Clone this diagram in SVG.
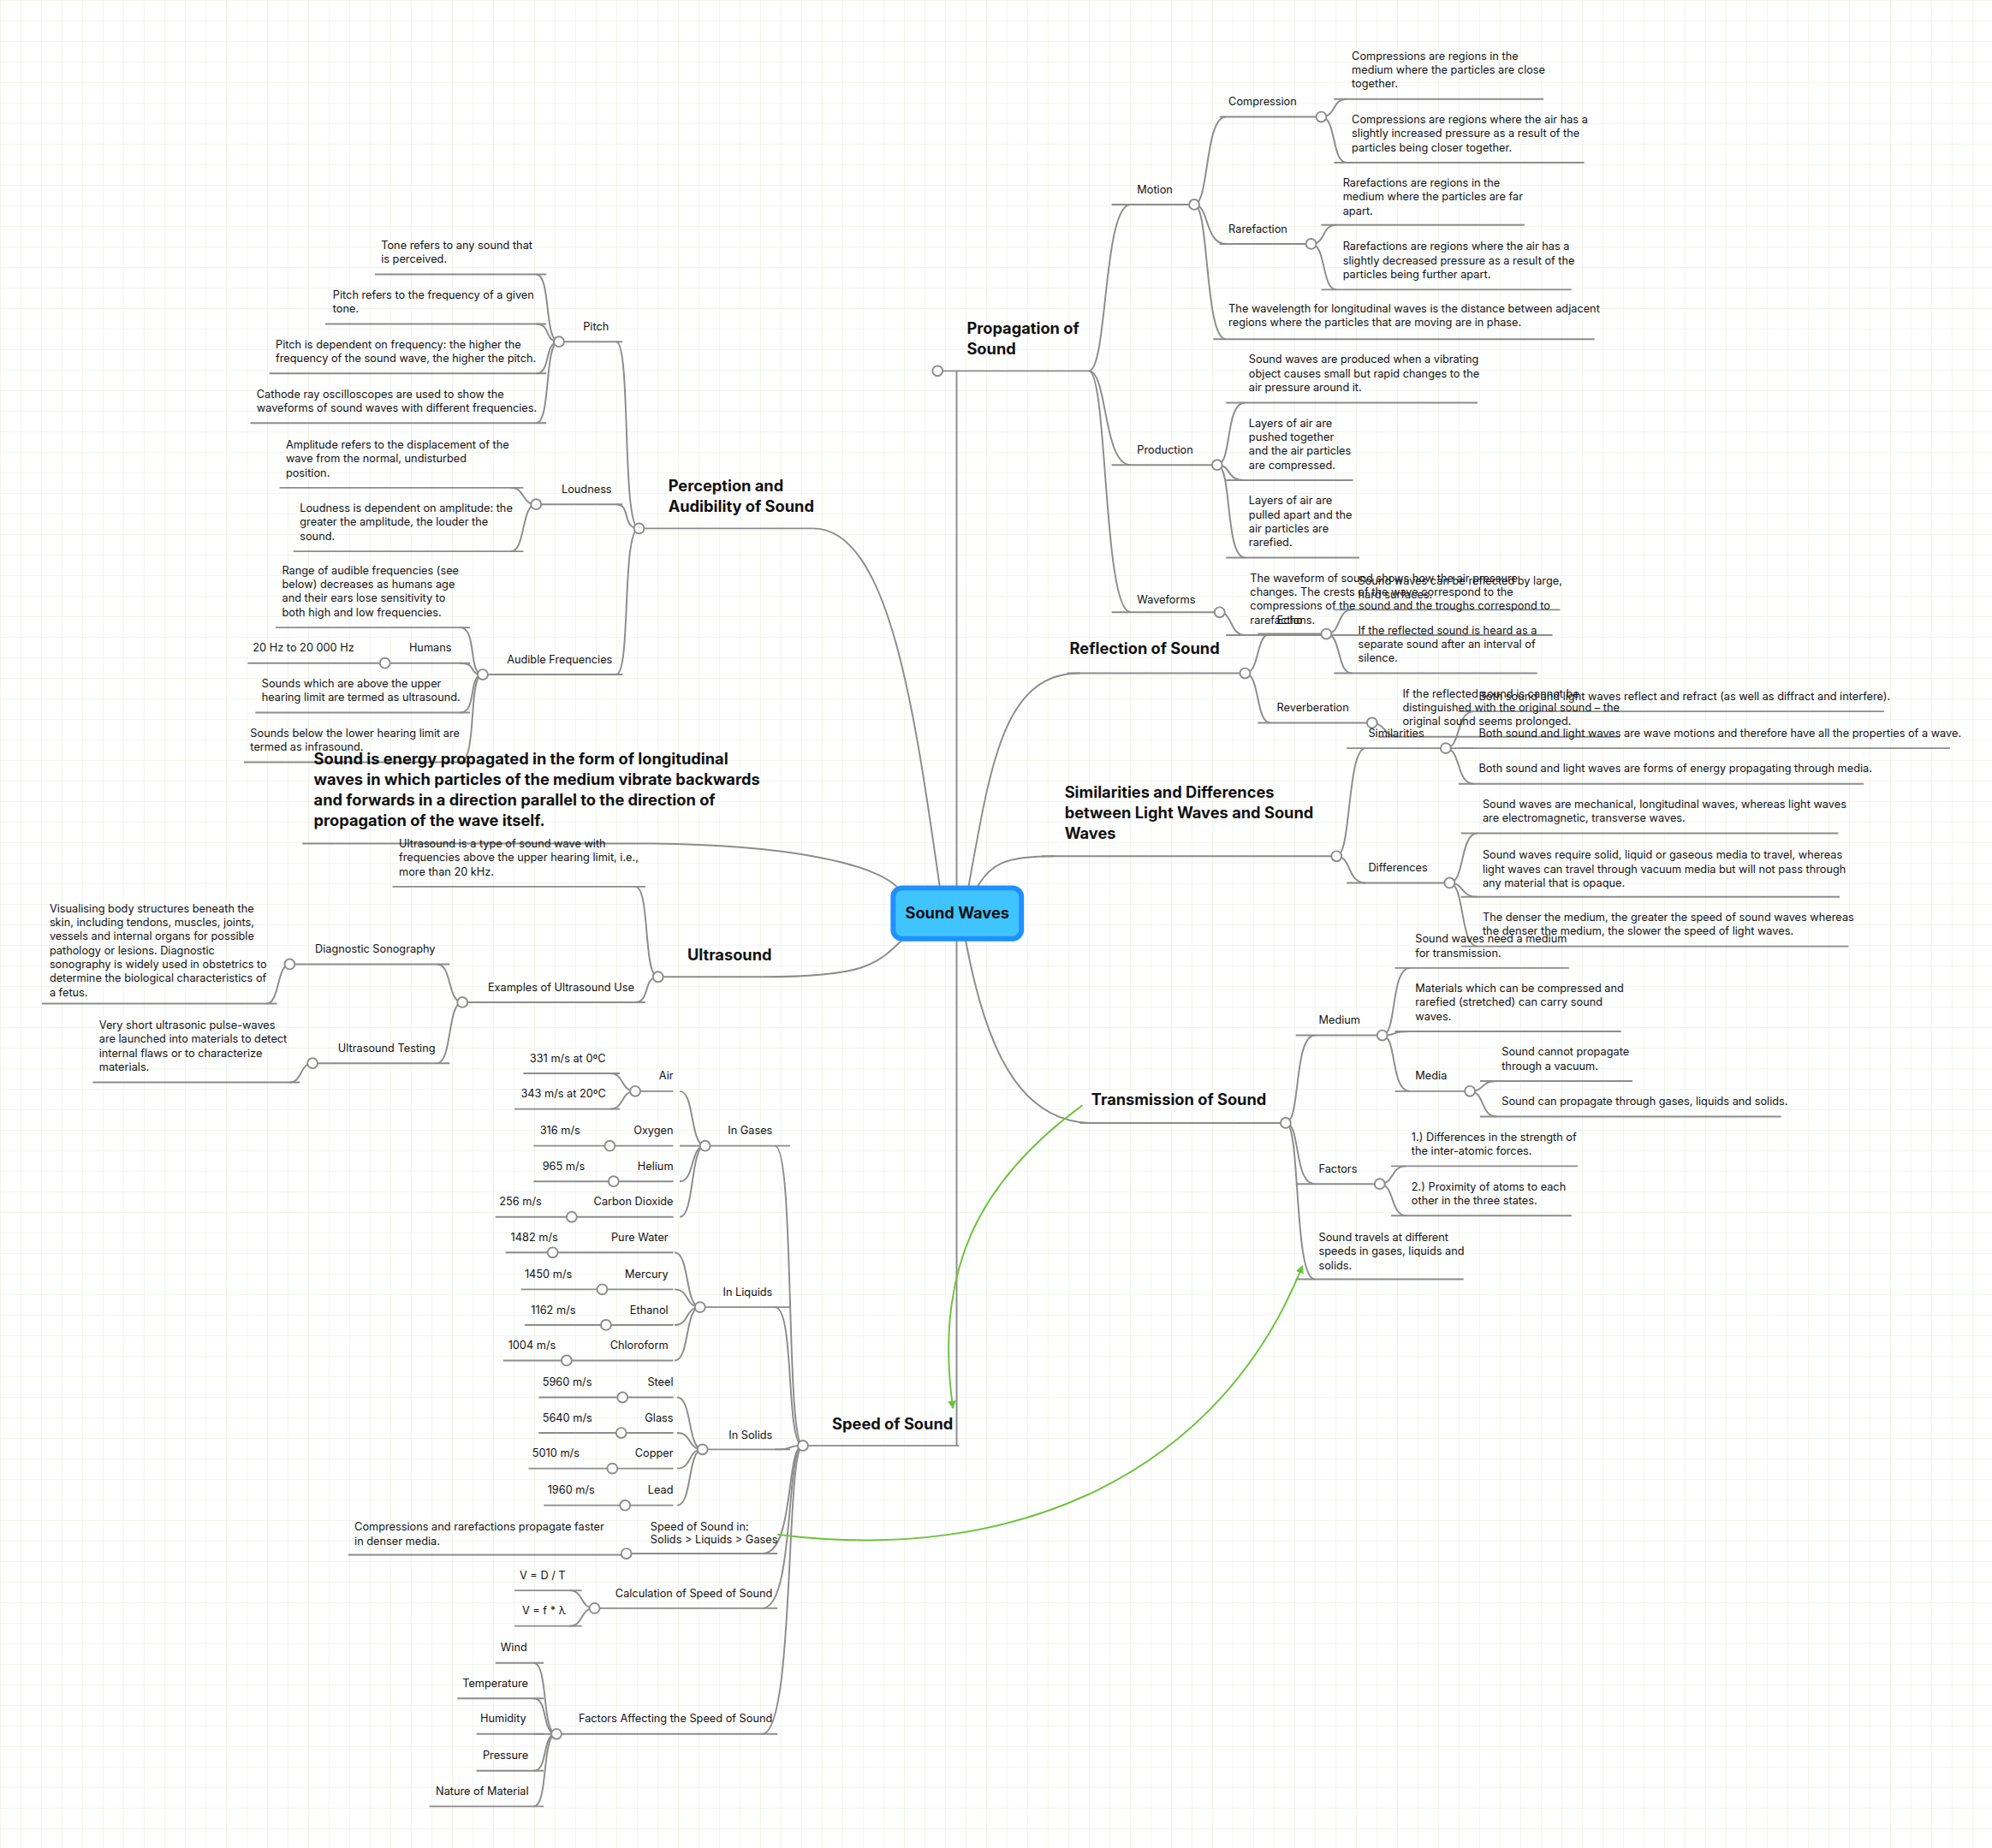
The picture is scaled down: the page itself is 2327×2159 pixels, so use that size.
<svg xmlns="http://www.w3.org/2000/svg" width="2327" height="2159" viewBox="0 0 2327 2159">
<defs>
<pattern id="grid" width="24" height="24" patternUnits="userSpaceOnUse"><path d="M24 0H0V24" fill="none" stroke="#e4eedb" stroke-width="1"/></pattern>
<marker id="ah" viewBox="0 0 10 10" refX="8" refY="5" markerWidth="5" markerHeight="5" orient="auto"><path d="M0,0L10,5L0,10z" fill="#6cc23a"/></marker>
<style>
text{font-family:Inter,"Noto Sans","Liberation Sans",sans-serif;fill:#111}
.t{font-size:8.6px}
.b{font-size:12.3px;font-weight:bold}
.u,.e{fill:none;stroke:#8c8c8c;stroke-width:1.3}
.c{fill:#fff;stroke:#8c8c8c;stroke-width:1.3}
.g{fill:none;stroke:#6cc23a;stroke-width:1.3}
.r{text-anchor:end}
</style>
</defs>
<rect width="2327" height="2159" fill="#fff"/>
<rect width="2327" height="2159" fill="url(#grid)"/>
<g transform="scale(1.4841)">
<g id="connectors">
<path class="e" d="M753,700 L753,292"/>
<path class="e" d="M753,700 L753,1138"/>
<path class="e" d="M740,700 C720,560 700,416 640,416"/>
<path class="e" d="M708,700 C690,680 620,664 500,664"/>
<path class="e" d="M712,738 C690,760 680,769 600,769"/>
<path class="e" d="M762,700 C780,600 790,530 850,530"/>
<path class="e" d="M768,700 C780,680 790,674 830,674"/>
<path class="e" d="M760,740 C775,820 800,884 860,884"/>
<!-- propagation -->
<path class="e" d="M857,292 C872,292 868,161 890,161"/>
<path class="e" d="M857,292 C872,292 868,366 890,366"/>
<path class="e" d="M857,292 C872,292 868,482 890,482"/>
<path class="e" d="M940,161 C952,161 948,92 965,92"/>
<path class="e" d="M940,161 C952,161 948,192 965,192"/>
<path class="e" d="M940,161 C952,161 948,267 965,267"/>
<path class="e" d="M1040,92 C1052,92 1048,78 1060,78"/>
<path class="e" d="M1040,92 C1052,92 1048,128 1060,128"/>
<path class="e" d="M1032,192 C1044,192 1040,177 1052,177"/>
<path class="e" d="M1032,192 C1044,192 1040,228 1052,228"/>
<path class="e" d="M958,366 C970,366 964,317 980,317"/>
<path class="e" d="M958,366 C970,366 964,378 980,378"/>
<path class="e" d="M958,366 C970,366 964,439 980,439"/>
<path class="e" d="M960,482 C970,482 968,500 980,500"/>
<!-- reflection -->
<path class="e" d="M980,530 C992,530 988,499 1000,499"/>
<path class="e" d="M980,530 C992,530 988,569 1000,569"/>
<path class="e" d="M1044,499 C1056,499 1052,480 1064,480"/>
<path class="e" d="M1044,499 C1056,499 1052,530 1064,530"/>
<path class="e" d="M1080,569 C1090,569 1090,580 1100,580"/>
<!-- similarities -->
<path class="e" d="M1052,674 C1064,674 1060,589 1075,589"/>
<path class="e" d="M1052,674 C1064,674 1060,695 1075,695"/>
<path class="e" d="M1138,589 C1150,589 1146,560 1160,560"/>
<path class="e" d="M1138,589 C1150,589 1146,589 1160,589"/>
<path class="e" d="M1138,589 C1150,589 1146,617 1160,617"/>
<path class="e" d="M1141,695 C1153,695 1149,656 1163,656"/>
<path class="e" d="M1141,695 C1153,695 1149,706 1163,706"/>
<path class="e" d="M1141,695 C1153,695 1149,745 1163,745"/>
<!-- transmission -->
<path class="e" d="M1012,884 C1024,884 1018,815 1035,815"/>
<path class="e" d="M1012,884 C1024,884 1018,932 1035,932"/>
<path class="e" d="M1012,884 C1024,884 1018,1007 1035,1007"/>
<path class="e" d="M1088,815 C1100,815 1094,762 1110,762"/>
<path class="e" d="M1088,815 C1100,815 1094,812 1110,812"/>
<path class="e" d="M1088,815 C1100,815 1094,859 1110,859"/>
<path class="e" d="M1157,859 C1169,859 1165,851 1178,851"/>
<path class="e" d="M1157,859 C1169,859 1165,879 1178,879"/>
<path class="e" d="M1086,932 C1098,932 1094,918 1107,918"/>
<path class="e" d="M1086,932 C1098,932 1094,957 1107,957"/>
<!-- speed -->
<path class="e" d="M632,1138 C618,1138 626,902 610,902"/>
<path class="e" d="M632,1138 C618,1138 626,1029 610,1029"/>
<path class="e" d="M632,1138 C618,1138 626,1141 610,1141"/>
<path class="e" d="M632,1138 C618,1138 626,1223 600,1223"/>
<path class="e" d="M632,1138 C618,1138 626,1266 600,1266"/>
<path class="e" d="M632,1138 C618,1138 626,1365 600,1365"/>
<path class="e" d="M555,902 C543,902 547,859 535,859"/>
<path class="e" d="M555,902 C543,902 547,902 535,902"/>
<path class="e" d="M555,902 C543,902 547,930 535,930"/>
<path class="e" d="M555,902 C543,902 547,958 535,958"/>
<path class="e" d="M500,859 C488,859 492,845 480,845"/>
<path class="e" d="M500,859 C488,859 492,873 480,873"/>
<path class="e" d="M551,1029 C539,1029 543,986 531,986"/>
<path class="e" d="M551,1029 C539,1029 543,1015 531,1015"/>
<path class="e" d="M551,1029 C539,1029 543,1043 531,1043"/>
<path class="e" d="M551,1029 C539,1029 543,1071 531,1071"/>
<path class="e" d="M553,1141 C541,1141 545,1100 533,1100"/>
<path class="e" d="M553,1141 C541,1141 545,1128 533,1128"/>
<path class="e" d="M553,1141 C541,1141 545,1156 533,1156"/>
<path class="e" d="M553,1141 C541,1141 545,1185 533,1185"/>
<path class="e" d="M468,1266 C456,1266 460,1252 448,1252"/>
<path class="e" d="M468,1266 C456,1266 460,1280 448,1280"/>
<path class="e" d="M438,1365 C426,1365 432,1309 420,1309"/>
<path class="e" d="M438,1365 C426,1365 432,1337 420,1337"/>
<path class="e" d="M438,1365 C426,1365 432,1365 420,1365"/>
<path class="e" d="M438,1365 C426,1365 432,1394 420,1394"/>
<path class="e" d="M438,1365 C426,1365 432,1422 420,1422"/>
<!-- perception -->
<path class="e" d="M503,416 C489,416 497,269 485,269"/>
<path class="e" d="M503,416 C489,416 497,397 485,397"/>
<path class="e" d="M503,416 C489,416 497,531 485,531"/>
<path class="e" d="M440,269 C428,269 434,216 422,216"/>
<path class="e" d="M440,269 C428,269 434,255 422,255"/>
<path class="e" d="M440,269 C428,269 434,294 422,294"/>
<path class="e" d="M440,269 C428,269 434,333 422,333"/>
<path class="e" d="M422,397 C410,397 414,384 402,384"/>
<path class="e" d="M422,397 C410,397 414,434 402,434"/>
<path class="e" d="M380,531 C368,531 376,494 362,494"/>
<path class="e" d="M380,531 C368,531 376,522 362,522"/>
<path class="e" d="M380,531 C368,531 376,561 362,561"/>
<path class="e" d="M380,531 C368,531 376,600 362,600"/>
<!-- ultrasound -->
<path class="e" d="M518,769 C506,769 512,698 500,698"/>
<path class="e" d="M518,769 C506,769 512,789 500,789"/>
<path class="e" d="M364,789 C352,789 356,759 344,759"/>
<path class="e" d="M364,789 C352,789 356,837 344,837"/>
<path class="e" d="M228,759 C218,759 220,790 210,790"/>
<path class="e" d="M246,837 C236,837 238,852 228,852"/>
<!-- underlines -->
<path class="u" d="M738,292H857 M875,161H940 M960,92H1040 M960,192H1032 M955,267H1255 M1050,78H1215 M1050,128H1247 M1040,177H1200 M1040,228H1237 M875,366H958 M965,317H1163 M965,378H1065 M965,439H1070 M875,482H960 M965,500H1222"/>
<path class="u" d="M840,530H980 M990,499H1044 M990,569H1080 M1050,480H1228 M1050,530H1210 M1085,580H1275"/>
<path class="u" d="M820,674H1052 M1060,589H1138 M1060,695H1141 M1148,560H1483 M1148,589H1535 M1148,617H1467 M1150,656H1447 M1150,706H1448 M1150,745H1455"/>
<path class="u" d="M850,884H1012 M1020,815H1088 M1020,932H1086 M1020,1007H1152 M1098,762H1235 M1098,812H1276 M1098,859H1157 M1165,851H1285 M1165,879H1402 M1095,918H1242 M1095,957H1237"/>
<path class="u" d="M632,1138H755 M555,902H622 M551,1029H622 M553,1141H622 M493,1223H612 M468,1266H612 M438,1365H612"/>
<path class="u" d="M500,859H530 M480,902H530 M483,930H530 M450,958H530 M412,845H488 M405,873H488 M420,902H480 M420,930H483 M390,958H450"/>
<path class="u" d="M435,986H530 M474,1015H530 M477,1043H530 M446,1071H530 M398,986H435 M410,1015H474 M413,1043H477 M396,1071H446"/>
<path class="u" d="M490,1100H530 M489,1128H530 M482,1156H530 M492,1185H530 M424,1100H490 M424,1128H489 M416,1156H482 M428,1185H492"/>
<path class="u" d="M274,1224H493 M405,1252H458 M405,1280H458 M390,1309H428 M360,1337H428 M375,1365H428 M375,1394H428 M338,1422H428"/>
<path class="u" d="M503,416H640 M440,269H490 M422,397H490 M380,531H490 M295,216H430 M256,255H430 M212,294H430 M197,333H430 M220,384H412 M231,434H412 M217,494H370 M303,522H370 M195,522H303 M201,561H370 M192,600H370 M238,664H500"/>
<path class="u" d="M518,769H600 M309,698H508 M364,789H508 M228,759H354 M246,837H354 M33,790H218 M73,852H236"/>
<path class="g" d="M852,870 C770,930 735,1000 750,1108" marker-end="url(#ah)"/>
<path class="g" d="M612,1208 C800,1232 960,1160 1025,997" marker-end="url(#ah)"/>
</g>
<g id="circles">
<circle class="c" cx="738" cy="292" r="4"/><circle class="c" cx="940" cy="161" r="4"/><circle class="c" cx="1040" cy="92" r="4"/><circle class="c" cx="1032" cy="192" r="4"/><circle class="c" cx="958" cy="366" r="4"/><circle class="c" cx="960" cy="482" r="4"/>
<circle class="c" cx="980" cy="530" r="4"/><circle class="c" cx="1044" cy="499" r="4"/><circle class="c" cx="1080" cy="569" r="4"/>
<circle class="c" cx="1052" cy="674" r="4"/><circle class="c" cx="1138" cy="589" r="4"/><circle class="c" cx="1141" cy="695" r="4"/>
<circle class="c" cx="1012" cy="884" r="4"/><circle class="c" cx="1088" cy="815" r="4"/><circle class="c" cx="1157" cy="859" r="4"/><circle class="c" cx="1086" cy="932" r="4"/>
<circle class="c" cx="632" cy="1138" r="4"/><circle class="c" cx="555" cy="902" r="4"/><circle class="c" cx="551" cy="1029" r="4"/><circle class="c" cx="553" cy="1141" r="4"/><circle class="c" cx="493" cy="1223" r="4"/><circle class="c" cx="468" cy="1266" r="4"/><circle class="c" cx="438" cy="1365" r="4"/>
<circle class="c" cx="500" cy="859" r="4"/><circle class="c" cx="480" cy="902" r="4"/><circle class="c" cx="483" cy="930" r="4"/><circle class="c" cx="450" cy="958" r="4"/>
<circle class="c" cx="435" cy="986" r="4"/><circle class="c" cx="474" cy="1015" r="4"/><circle class="c" cx="477" cy="1043" r="4"/><circle class="c" cx="446" cy="1071" r="4"/>
<circle class="c" cx="490" cy="1100" r="4"/><circle class="c" cx="489" cy="1128" r="4"/><circle class="c" cx="482" cy="1156" r="4"/><circle class="c" cx="492" cy="1185" r="4"/>
<circle class="c" cx="503" cy="416" r="4"/><circle class="c" cx="440" cy="269" r="4"/><circle class="c" cx="422" cy="397" r="4"/><circle class="c" cx="380" cy="531" r="4"/><circle class="c" cx="303" cy="522" r="4"/>
<circle class="c" cx="518" cy="769" r="4"/><circle class="c" cx="364" cy="789" r="4"/><circle class="c" cx="228" cy="759" r="4"/><circle class="c" cx="246" cy="837" r="4"/>
</g>
<g id="center"><rect x="703" y="699" width="101" height="40" rx="7" fill="#40c4ff" stroke="#1e90ff" stroke-width="4"/><text class="b" x="753.5" y="723" text-anchor="middle">Sound Waves</text></g>
<g id="propagation">
<text class="b" x="761" y="263">Propagation of</text><text class="b" x="761" y="279">Sound</text>
<text class="t" x="895" y="152">Motion</text>
<text class="t" x="967" y="83">Compression</text>
<text class="t" x="1064" y="47">Compressions are regions in the</text><text class="t" x="1064" y="58">medium where the particles are close</text><text class="t" x="1064" y="69">together.</text>
<text class="t" x="1064" y="97">Compressions are regions where the air has a</text><text class="t" x="1064" y="108">slightly increased pressure as a result of the</text><text class="t" x="1064" y="119">particles being closer together.</text>
<text class="t" x="967" y="183">Rarefaction</text>
<text class="t" x="1057" y="147">Rarefactions are regions in the</text><text class="t" x="1057" y="158">medium where the particles are far</text><text class="t" x="1057" y="169">apart.</text>
<text class="t" x="1057" y="197">Rarefactions are regions where the air has a</text><text class="t" x="1057" y="208">slightly decreased pressure as a result of the</text><text class="t" x="1057" y="219">particles being further apart.</text>
<text class="t" x="967" y="246">The wavelength for longitudinal waves is the distance between adjacent</text><text class="t" x="967" y="257">regions where the particles that are moving are in phase.</text>
<text class="t" x="895" y="357">Production</text>
<text class="t" x="983" y="286">Sound waves are produced when a vibrating</text><text class="t" x="983" y="297">object causes small but rapid changes to the</text><text class="t" x="983" y="308">air pressure around it.</text>
<text class="t" x="983" y="336">Layers of air are</text><text class="t" x="983" y="347">pushed together</text><text class="t" x="983" y="358">and the air particles</text><text class="t" x="983" y="369">are compressed.</text>
<text class="t" x="983" y="397">Layers of air are</text><text class="t" x="983" y="408">pulled apart and the</text><text class="t" x="983" y="419">air particles are</text><text class="t" x="983" y="430">rarefied.</text>
<text class="t" x="895" y="475">Waveforms</text>
<text class="t" x="984" y="458">The waveform of sound shows how the air pressure</text><text class="t" x="984" y="469">changes. The crests of the wave correspond to the</text><text class="t" x="984" y="480">compressions of the sound and the troughs correspond to</text><text class="t" x="984" y="491">rarefactions.</text>
</g>
<g id="reflection">
<text class="b" x="842" y="515">Reflection of Sound</text>
<text class="t" x="1005" y="491">Echo</text>
<text class="t" x="1069" y="460">Sound waves can be reflected by large,</text><text class="t" x="1069" y="471">hard surfaces.</text>
<text class="t" x="1069" y="499">If the reflected sound is heard as a</text><text class="t" x="1069" y="510">separate sound after an interval of</text><text class="t" x="1069" y="521">silence.</text>
<text class="t" x="1005" y="560">Reverberation</text>
<text class="t" x="1104" y="549">If the reflected sound is cannot be</text><text class="t" x="1104" y="560">distinguished with the original sound – the</text><text class="t" x="1104" y="571">original sound seems prolonged.</text>
</g>
<g id="similarities">
<text class="b" x="838" y="628">Similarities and Differences</text><text class="b" x="838" y="644">between Light Waves and Sound</text><text class="b" x="838" y="660">Waves</text>
<text class="t" x="1077" y="580">Similarities</text>
<text class="t" x="1164" y="551">Both sound and light waves reflect and refract (as well as diffract and interfere).</text>
<text class="t" x="1164" y="580">Both sound and light waves are wave motions and therefore have all the properties of a wave.</text>
<text class="t" x="1164" y="608">Both sound and light waves are forms of energy propagating through media.</text>
<text class="t" x="1077" y="686">Differences</text>
<text class="t" x="1167" y="636">Sound waves are mechanical, longitudinal waves, whereas light waves</text><text class="t" x="1167" y="647">are electromagnetic, transverse waves.</text>
<text class="t" x="1167" y="676">Sound waves require solid, liquid or gaseous media to travel, whereas</text><text class="t" x="1167" y="687">light waves can travel through vacuum media but will not pass through</text><text class="t" x="1167" y="698">any material that is opaque.</text>
<text class="t" x="1167" y="725">The denser the medium, the greater the speed of sound waves whereas</text><text class="t" x="1167" y="736">the denser the medium, the slower the speed of light waves.</text>
</g>
<g id="transmission">
<text class="b" x="859" y="870">Transmission of Sound</text>
<text class="t" x="1038" y="806">Medium</text>
<text class="t" x="1114" y="742">Sound waves need a medium</text><text class="t" x="1114" y="753">for transmission.</text>
<text class="t" x="1114" y="781">Materials which can be compressed and</text><text class="t" x="1114" y="792">rarefied (stretched) can carry sound</text><text class="t" x="1114" y="803">waves.</text>
<text class="t" x="1114" y="850">Media</text>
<text class="t" x="1182" y="831">Sound cannot propagate</text><text class="t" x="1182" y="842">through a vacuum.</text>
<text class="t" x="1182" y="870">Sound can propagate through gases, liquids and solids.</text>
<text class="t" x="1038" y="923">Factors</text>
<text class="t" x="1111" y="898">1.) Differences in the strength of</text><text class="t" x="1111" y="909">the inter-atomic forces.</text>
<text class="t" x="1111" y="937">2.)  Proximity of atoms to each</text><text class="t" x="1111" y="948">other in the three states.</text>
<text class="t" x="1038" y="977">Sound travels at different</text><text class="t" x="1038" y="988">speeds in gases, liquids and</text><text class="t" x="1038" y="999">solids.</text>
</g>
<g id="speed">
<text class="b" x="655" y="1125">Speed of Sound</text>
<text class="t r" x="608" y="893">In Gases</text>
<text class="t r" x="530" y="850">Air</text><text class="t" x="417" y="836">331 m/s at 0ºC</text><text class="t" x="410" y="864">343 m/s at 20ºC</text>
<text class="t r" x="530" y="893">Oxygen</text><text class="t" x="425" y="893">316 m/s</text>
<text class="t r" x="530" y="921">Helium</text><text class="t" x="427" y="921">965 m/s</text>
<text class="t r" x="530" y="949">Carbon Dioxide</text><text class="t" x="393" y="949">256 m/s</text>
<text class="t r" x="608" y="1020">In Liquids</text>
<text class="t r" x="526" y="977">Pure Water</text><text class="t" x="402" y="977">1482 m/s</text>
<text class="t r" x="526" y="1006">Mercury</text><text class="t" x="413" y="1006">1450 m/s</text>
<text class="t r" x="526" y="1034">Ethanol</text><text class="t" x="418" y="1034">1162 m/s</text>
<text class="t r" x="526" y="1062">Chloroform</text><text class="t" x="400" y="1062">1004 m/s</text>
<text class="t r" x="608" y="1133">In Solids</text>
<text class="t r" x="530" y="1091">Steel</text><text class="t" x="427" y="1091">5960 m/s</text>
<text class="t r" x="530" y="1119">Glass</text><text class="t" x="427" y="1119">5640 m/s</text>
<text class="t r" x="530" y="1147">Copper</text><text class="t" x="419" y="1147">5010 m/s</text>
<text class="t r" x="530" y="1176">Lead</text><text class="t" x="431" y="1176">1960 m/s</text>
<text class="t" x="512" y="1205">Speed of Sound in:</text><text class="t" x="512" y="1215">Solids &gt; Liquids &gt; Gases</text>
<text class="t" x="279" y="1205">Compressions and rarefactions propagate faster</text><text class="t" x="279" y="1216">in denser media.</text>
<text class="t r" x="608" y="1257">Calculation of Speed of Sound</text>
<text class="t" x="409" y="1243">V = D / T</text><text class="t" x="411" y="1271">V = f * λ</text>
<text class="t r" x="608" y="1356">Factors Affecting the Speed of Sound</text>
<text class="t" x="394" y="1300">Wind</text><text class="t" x="364" y="1328">Temperature</text><text class="t" x="378" y="1356">Humidity</text><text class="t" x="380" y="1385">Pressure</text><text class="t" x="343" y="1413">Nature of Material</text>
</g>
<g id="perception">
<text class="b" x="526" y="387">Perception and</text><text class="b" x="526" y="403">Audibility of Sound</text>
<text class="t" x="459" y="260">Pitch</text>
<text class="t" x="300" y="196">Tone refers to any sound that</text><text class="t" x="300" y="207">is perceived.</text>
<text class="t" x="262" y="235">Pitch refers to the frequency of a given</text><text class="t" x="262" y="246">tone.</text>
<text class="t" x="217" y="274">Pitch is dependent on frequency: the higher the</text><text class="t" x="217" y="285">frequency of the sound wave, the higher the pitch.</text>
<text class="t" x="202" y="313">Cathode ray oscilloscopes are used to show the</text><text class="t" x="202" y="324">waveforms of sound waves with different frequencies.</text>
<text class="t" x="442" y="388">Loudness</text>
<text class="t" x="225" y="353">Amplitude refers to the displacement of the</text><text class="t" x="225" y="364">wave from the normal, undisturbed</text><text class="t" x="225" y="375">position.</text>
<text class="t" x="236" y="403">Loudness is dependent on amplitude: the</text><text class="t" x="236" y="414">greater the amplitude, the louder the</text><text class="t" x="236" y="425">sound.</text>
<text class="t" x="399" y="522">Audible Frequencies</text>
<text class="t" x="222" y="452">Range of audible frequencies (see</text><text class="t" x="222" y="463">below) decreases as humans age</text><text class="t" x="222" y="474">and their ears lose sensitivity to</text><text class="t" x="222" y="485">both high and low frequencies.</text>
<text class="t" x="322" y="513">Humans</text><text class="t" x="199" y="513">20 Hz to 20 000 Hz</text>
<text class="t" x="206" y="541">Sounds which are above the upper</text><text class="t" x="206" y="552">hearing limit are termed as ultrasound.</text>
<text class="t" x="197" y="580">Sounds below the lower hearing limit are</text><text class="t" x="197" y="591">termed as infrasound.</text>
</g>
<g id="definition">
<text class="b" x="247" y="602">Sound is energy propagated in the form of longitudinal</text><text class="b" x="247" y="618">waves in which particles of the medium vibrate backwards</text><text class="b" x="247" y="634">and forwards in a direction parallel to the direction of</text><text class="b" x="247" y="650">propagation of the wave itself.</text>
</g>
<g id="ultrasound">
<text class="b" x="541" y="756">Ultrasound</text>
<text class="t" x="314" y="667">Ultrasound is a type of sound wave with</text><text class="t" x="314" y="678">frequencies above the upper hearing limit, i.e.,</text><text class="t" x="314" y="689">more than 20 kHz.</text>
<text class="t" x="384" y="780">Examples of Ultrasound Use</text>
<text class="t" x="248" y="750">Diagnostic Sonography</text>
<text class="t" x="39" y="718">Visualising body structures beneath the</text><text class="t" x="39" y="729">skin, including tendons, muscles, joints,</text><text class="t" x="39" y="740">vessels and internal organs for possible</text><text class="t" x="39" y="751">pathology or lesions. Diagnostic</text><text class="t" x="39" y="762">sonography is widely used in obstetrics to</text><text class="t" x="39" y="773">determine the biological characteristics of</text><text class="t" x="39" y="784">a fetus.</text>
<text class="t" x="266" y="828">Ultrasound Testing</text>
<text class="t" x="78" y="810">Very short ultrasonic pulse-waves</text><text class="t" x="78" y="821">are launched into materials to detect</text><text class="t" x="78" y="832">internal flaws or to characterize</text><text class="t" x="78" y="843">materials.</text>
</g>
</g>
</svg>
